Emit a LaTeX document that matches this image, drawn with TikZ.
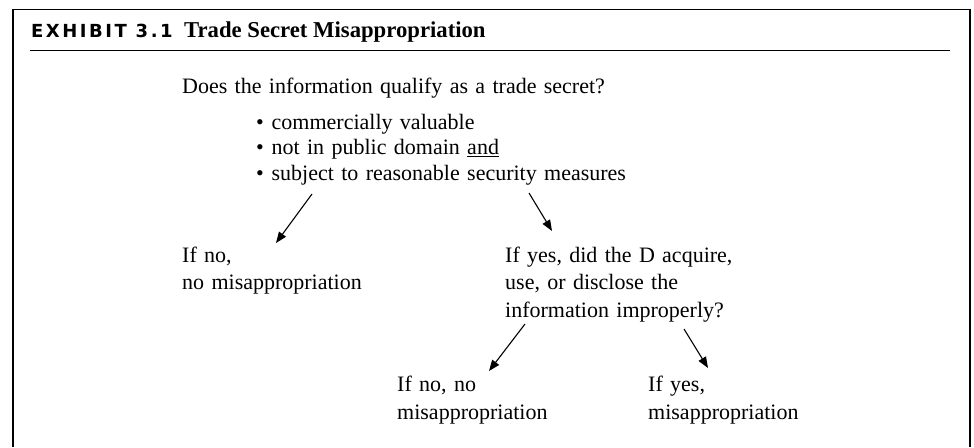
\documentclass[tikz,border=0pt]{standalone}
\usepackage{fontspec}
\setmainfont{Liberation Serif}
\newfontfamily\exhfont[LetterSpace=14]{DejaVu Sans}
\usetikzlibrary{arrows.meta}
\begin{document}
\begin{tikzpicture}[x=1pt,y=-1pt,
  txt/.style={inner sep=0pt, anchor=base west, text width=360pt, align=left,
    font=\fontsize{22}{27.5}\selectfont},
  ttl/.style={inner sep=0pt, anchor=base west},
  arr/.style={line width=1.1pt, -{Triangle[length=11pt,width=8.5pt]}}]
\useasboundingbox (0,0) rectangle (974,447);
% frame
\draw[line width=2pt] (13,447) -- (13,9);
\draw[line width=1pt] (12,9) -- (971,9);
\draw[line width=2.6pt] (970,8.5) -- (970,447);
% title
\node[ttl, font=\exhfont\bfseries\fontsize{18}{18}\selectfont] (exh) at (31,37) {EXHIBIT 3.1};
\node[ttl, font=\bfseries\fontsize{22.7}{24}\selectfont] (ttltext) at (184,37) {Trade Secret Misappropriation};
\coordinate (ulA) at (30,50.5);
\coordinate (ulB) at (950,50.5);
\draw[line width=1.2pt] (ulA) -- (ulB);
% question
\node[txt, text width=500pt] (q) at (182,93) {Does the information qualify as a trade secret?};
\node[txt, text width=500pt, font=\fontsize{22}{25.6}\selectfont] (bl) at (256,129)
  {\makebox[15.5pt][l]{\textbullet}commercially valuable\\
   \makebox[15.5pt][l]{\textbullet}not in public domain \underline{and}\\
   \makebox[15.5pt][l]{\textbullet}subject to reasonable security measures};
% first answers
\node[txt] (no1) at (182,262) {If no,\\no misappropriation};
\node[txt] (yes1) at (505,262) {If yes, did the D acquire,\\use, or disclose the\\information improperly?};
% second answers
\node[txt] (no2) at (397,391.5) {If no, no\\misappropriation};
\node[txt] (yes2) at (648,391.5) {If yes,\\misappropriation};
% arrows
\coordinate (a1s) at (312,194); \coordinate (a1e) at (276,243);
\coordinate (a2s) at (529,193); \coordinate (a2e) at (552,231);
\coordinate (a3s) at (525,324); \coordinate (a3e) at (489,371);
\coordinate (a4s) at (684,329); \coordinate (a4e) at (708,368);
\draw[arr] (a1s) -- (a1e);
\draw[arr] (a2s) -- (a2e);
\draw[arr] (a3s) -- (a3e);
\draw[arr] (a4s) -- (a4e);
\end{tikzpicture}
\end{document}
